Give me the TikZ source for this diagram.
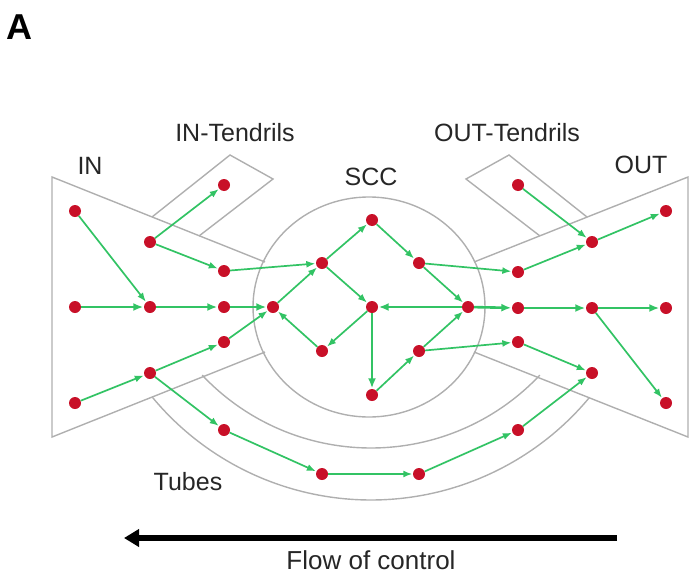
\documentclass[tikz,border=0pt]{standalone}
\usepackage{fontspec}
\setmainfont{Liberation Sans}
\usetikzlibrary{arrows.meta}
\definecolor{dotred}{RGB}{200,16,40}
\definecolor{edgegreen}{RGB}{50,195,100}
\definecolor{shapegray}{RGB}{175,175,175}
\tikzset{
  dot/.style={circle,fill=dotred,draw=none,inner sep=0pt,minimum size=12pt},
  edge/.style={draw=edgegreen,line width=1.7pt,-{Latex[length=9pt,width=7pt]},shorten >=0.5pt},
  thickedge/.style={edge,line width=2.6pt,-{Latex[length=10pt,width=8pt]}},
  region/.style={draw=shapegray,line width=1.4pt},
  lab/.style={font=\fontsize{25}{25}\selectfont,text=black!85,inner sep=0pt}
}
\begin{document}
\begin{tikzpicture}[x=1pt,y=-1pt]
\useasboundingbox (0,0) rectangle (692,578);
% regions
\draw[region] (369,307) ellipse[x radius=116, y radius=110];
\draw[region] (265,262) -- (52,177) -- (52,437) -- (265,352);
\draw[region] (474,262) -- (688,177) -- (688,437) -- (474,352);
\draw[region] (152,217) -- (230,155) -- (273,179) -- (199,236);
\draw[region] (587,217) -- (509,155) -- (466,179) -- (540,236);
\draw[region] (371,216) ++(136.7:232) arc[start angle=136.7, end angle=43.3, radius=232];
\draw[region] (371,216) ++(140.3:284) arc[start angle=140.3, end angle=39.7, radius=284];
% labels
\node[font=\fontsize{36}{36}\selectfont\bfseries,inner sep=0pt] (A) at (19,27) {A};
\node[lab] (lIN) at (90,166) {IN};
\node[lab] (lINT) at (235,133) {IN-Tendrils};
\node[lab] (lSCC) at (371,177) {SCC};
\node[lab] (lOUTT) at (507,133) {OUT-Tendrils};
\node[lab] (lOUT) at (641,165) {OUT};
\node[lab] (lTubes) at (188,482) {Tubes};
\node[lab,font=\fontsize{26}{26}\selectfont] (lFlow) at (371,560) {Flow of control};
% flow arrow
\coordinate (fr) at (617,538);
\coordinate (fl) at (124,538);
\draw[line width=6.5pt,-{Triangle[length=15pt,width=17pt]}] (fr) -- (fl);
% nodes IN
\node[dot] (a1) at (75,211) {};
\node[dot] (a2) at (75,307) {};
\node[dot] (a3) at (75,403) {};
\node[dot] (b1) at (150,307) {};
\node[dot] (b2) at (150,242) {};
\node[dot] (b3) at (150,373) {};
\node[dot] (c1) at (224,185) {};
\node[dot] (c2) at (224,271) {};
\node[dot] (c3) at (224,307) {};
\node[dot] (c4) at (224,342) {};
% SCC
\node[dot] (sl) at (273,307) {};
\node[dot] (sul) at (322,263) {};
\node[dot] (st) at (372,220) {};
\node[dot] (sur) at (419,263) {};
\node[dot] (sc) at (372,307) {};
\node[dot] (sr) at (468,307) {};
\node[dot] (sll) at (322,351) {};
\node[dot] (slr) at (419,351) {};
\node[dot] (sb) at (372,395) {};
% OUT
\node[dot] (o1) at (518,185) {};
\node[dot] (o2) at (518,272) {};
\node[dot] (o3) at (518,308) {};
\node[dot] (o4) at (518,342) {};
\node[dot] (p1) at (592,242) {};
\node[dot] (p2) at (592,308) {};
\node[dot] (p3) at (592,373) {};
\node[dot] (q1) at (666,211) {};
\node[dot] (q2) at (666,308) {};
\node[dot] (q3) at (666,403) {};
% tubes
\node[dot] (t1) at (224,430) {};
\node[dot] (t2) at (322,474) {};
\node[dot] (t3) at (419,474) {};
\node[dot] (t4) at (518,430) {};
% edges IN
\draw[edge] (a1) -- (b1);
\draw[thickedge] (a2) -- (b1);
\draw[thickedge] (b1) -- (c3);
\draw[thickedge] (c3) -- (sl);
\draw[edge] (a3) -- (b3);
\draw[edge] (b3) -- (c4);
\draw[edge] (c4) -- (sl);
\draw[edge] (b2) -- (c1);
\draw[edge] (b2) -- (c2);
\draw[edge] (c2) -- (sul);
% edges SCC
\draw[edge] (sl) -- (sul);
\draw[edge] (sul) -- (st);
\draw[edge] (st) -- (sur);
\draw[edge] (sur) -- (sr);
\draw[edge] (sul) -- (sc);
\draw[thickedge] (sr) -- (sc);
\draw[edge] (sc) -- (sll);
\draw[edge] (sll) -- (sl);
\draw[thickedge] (sc) -- (sb);
\draw[edge] (sb) -- (slr);
\draw[edge] (slr) -- (sr);
% edges OUT
\draw[edge] (sur) -- (o2);
\draw[thickedge] (sr) -- (o3);
\draw[edge] (slr) -- (o4);
\draw[edge] (o1) -- (p1);
\draw[edge] (o2) -- (p1);
\draw[edge] (p1) -- (q1);
\draw[thickedge] (o3) -- (p2);
\draw[thickedge] (p2) -- (q2);
\draw[edge] (p2) -- (q3);
\draw[edge] (o4) -- (p3);
% tubes
\draw[edge] (b3) -- (t1);
\draw[edge] (t1) -- (t2);
\draw[edge] (t2) -- (t3);
\draw[edge] (t3) -- (t4);
\draw[edge] (t4) -- (p3);
\end{tikzpicture}
\end{document}
